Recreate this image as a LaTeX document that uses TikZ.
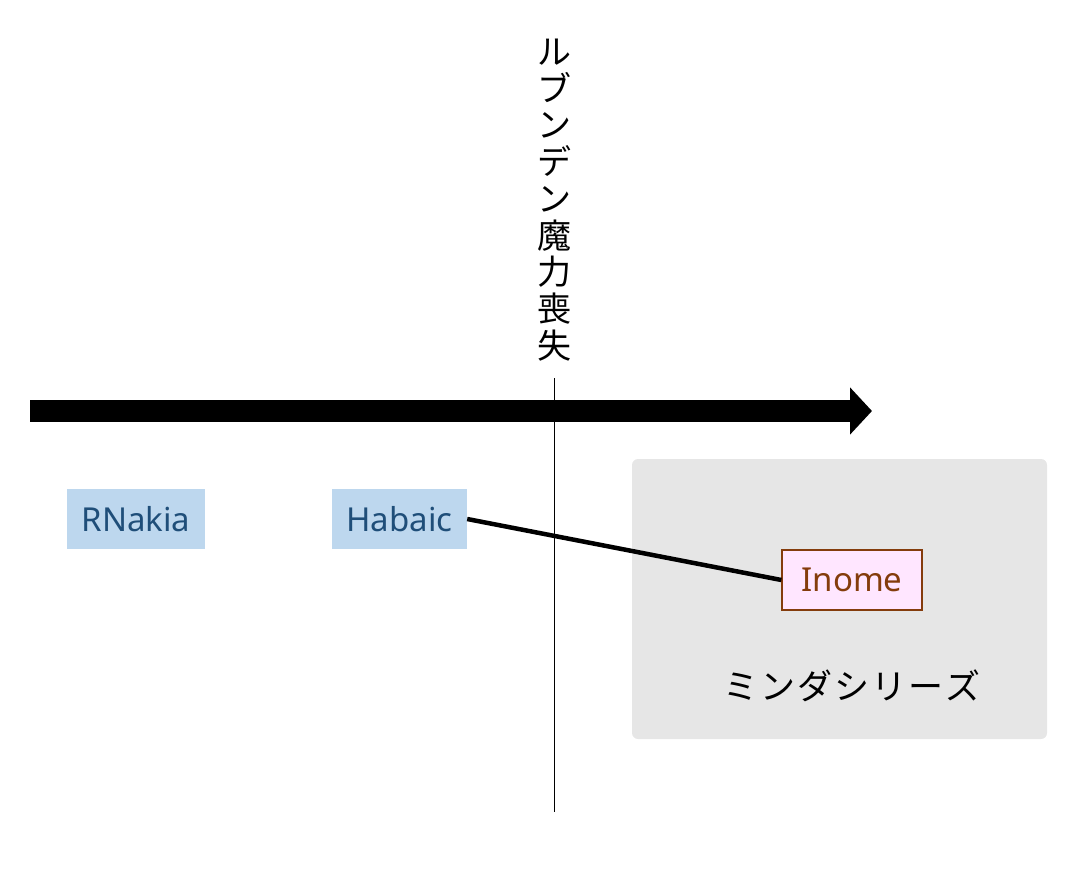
\documentclass[tikz,border=0pt]{standalone}
\usepackage{fontspec}
\setmainfont{Noto Sans}
\newfontfamily\jpfont{Noto Sans CJK JP}
\usetikzlibrary{arrows.meta,positioning}
\definecolor{tagblue}{HTML}{BDD7EE}
\definecolor{tagtext}{HTML}{1F4E79}
\definecolor{pinkfill}{HTML}{FFE6FF}
\definecolor{brownline}{HTML}{843C0C}
\definecolor{groupgray}{HTML}{E6E6E6}
\newcommand{\kgap}{\hspace{2pt}}
\tikzset{
  tag/.style={fill=tagblue, text=tagtext, minimum height=60pt, inner xsep=4pt, font=\fontsize{33}{40}\selectfont},
  pick/.style={fill=pinkfill, draw=brownline, line width=1.3pt, text=brownline, minimum width=140pt, minimum height=60pt, inner xsep=4pt, font=\fontsize{33}{40}\selectfont},
}
\begin{document}
\begin{tikzpicture}[x=1pt, y=-1pt]
            \useasboundingbox (0,0) rectangle (1075,885);
            % timeline
            \coordinate (start) at (30,411);
            \coordinate (stop) at (872,411);
            \draw[line width=22pt, -{Triangle[length=22pt, width=46pt]}] (start) -- (stop);
            % event
            \coordinate (top) at (554,378);
            \coordinate (bottom) at (554,812);
            \draw[line width=1pt] (top) -- (bottom);
            \node[font=\jpfont\fontsize{34}{36.7}\selectfont, align=center, inner sep=0pt] (event) at (554,200) {ル\\ブ\\ン\\デ\\ン\\魔\\力\\喪\\失};
            % series
            \fill[groupgray, rounded corners=6pt] (632,459) rectangle (1047,739);
            \node[font=\jpfont\fontsize{35}{40}\selectfont, inner sep=0pt] (series) at (852,686) {ミ\kgap ン\kgap ダ\kgap シ\kgap リ\kgap ー\kgap ズ};
            \node[tag, minimum width=138pt] (rnakia) at (136,519) {RNakia};
            \node[tag, minimum width=135pt] (habaic) at (399.5,519) {Habaic};
            \node[pick] (inome) at (852,580) {Inome};
            \draw[line width=4.5pt] (habaic.east) -- (inome.west);
\end{tikzpicture}
\end{document}
